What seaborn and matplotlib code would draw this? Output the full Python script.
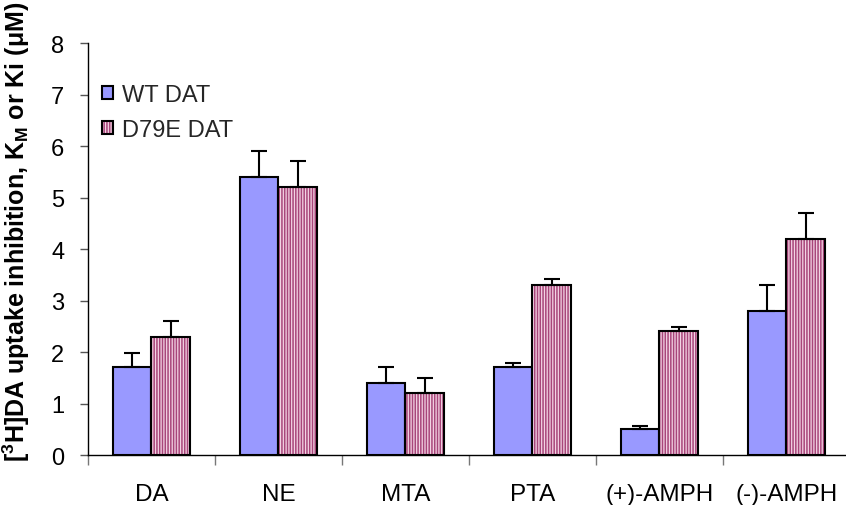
import matplotlib
matplotlib.use("Agg")
import matplotlib.pyplot as plt
import seaborn as sns
import pandas as pd
import numpy as np
from matplotlib.patches import Patch, Rectangle
from matplotlib.ticker import FixedLocator

# Uptake inhibition constants (µM) with SEM
compounds = ["DA", "NE", "MTA", "PTA", "(+)-AMPH", "(-)-AMPH"]
series = ["WT DAT", "D79E DAT"]
wt_values = [1.7, 5.4, 1.4, 1.7, 0.5, 2.8]
wt_err = [0.28, 0.5, 0.3, 0.08, 0.07, 0.5]
d79e_values = [2.3, 5.2, 1.2, 3.3, 2.4, 4.2]
d79e_err = [0.3, 0.5, 0.3, 0.12, 0.09, 0.5]

sns.set_theme(style="white")
plt.rcParams["font.family"] = ["Liberation Sans", "DejaVu Sans"]
plt.rcParams["mathtext.default"] = "regular"
plt.rcParams["hatch.linewidth"] = 1.1

wt_color = "#9999FF"
d79e_face = "#F3D3E4"
stripe = "#A8457A"
hatch = "||||||"

df = pd.DataFrame({
    "compound": compounds * 2,
    "transporter": [series[0]] * len(compounds) + [series[1]] * len(compounds),
    "value": wt_values + d79e_values,
})

fig = plt.figure(figsize=(8.46, 5.06), dpi=100)
ax = fig.add_axes([0.104, 0.0988, 0.9007, 0.8142])

palette = {series[0]: wt_color, series[1]: d79e_face}
sns.barplot(data=df, x="compound", y="value", hue="transporter",
            order=compounds, hue_order=series, palette=palette,
            width=0.6, errorbar=None, edgecolor="black", linewidth=1.5,
            saturation=1, ax=ax, legend=False)

n = len(compounds)
bars = list(ax.patches[:2 * n])

# mutant bars: stripes in the hatch colour, black outline drawn on top
for p in bars[n:]:
    p.set_hatch(hatch)
    p.set_edgecolor(stripe)
    p.set_linewidth(0)
    ax.add_patch(Rectangle((p.get_x(), p.get_y()), p.get_width(), p.get_height(),
                           fill=False, edgecolor="black", linewidth=1.5,
                           zorder=p.get_zorder() + 0.1))

# upward-only error bars
for vals, errs, group in [(wt_values, wt_err, bars[:n]), (d79e_values, d79e_err, bars[n:])]:
    xs = [p.get_x() + p.get_width() / 2 for p in group]
    ax.errorbar(xs, vals, yerr=[np.zeros(len(vals)), errs], fmt="none",
                ecolor="black", elinewidth=1.5, capsize=5.6, capthick=1.5, zorder=1)

ax.set_xlim(-0.5, n - 0.5)
ax.set_ylim(0, 8)
ax.set_yticks(range(0, 9))
ax.tick_params(axis="y", labelsize=17, length=6, width=1, direction="out",
               color="#555555", left=True, pad=11)
ax.tick_params(axis="x", which="major", length=0, labelsize=17.5, pad=20)
ax.xaxis.set_minor_locator(FixedLocator(np.arange(-0.5, n, 1.0)))
ax.tick_params(axis="x", which="minor", length=7, width=1, color="#777777",
               direction="out", bottom=True)
for t in ax.get_yticklabels() + ax.get_xticklabels():
    t.set_color("black")

sns.despine(ax=ax, top=True, right=True)
for side in ("left", "bottom"):
    ax.spines[side].set_color("black")
    ax.spines[side].set_linewidth(1)

ax.set_xlabel("")
ax.set_ylabel(r"[$^{3}$H]DA uptake inhibition, K$_{M}$ or Ki (μM)",
              fontsize=18, fontweight="bold", color="black")
ax.yaxis.set_label_coords(-0.074, 0.545)

wt_key = Patch(facecolor=wt_color, edgecolor="black", linewidth=1.5)
d79e_key = (Patch(facecolor=d79e_face, edgecolor=stripe, linewidth=0, hatch=hatch),
            Patch(fill=False, edgecolor="black", linewidth=1.5))
ax.legend([wt_key, d79e_key], series, loc="upper left", bbox_to_anchor=(0.0, 0.935),
          frameon=False, fontsize=17, handlelength=0.45, handleheight=0.45,
          handletextpad=0.4, labelspacing=0.55, borderaxespad=0.2)

fig.savefig("out.png", dpi=100)
